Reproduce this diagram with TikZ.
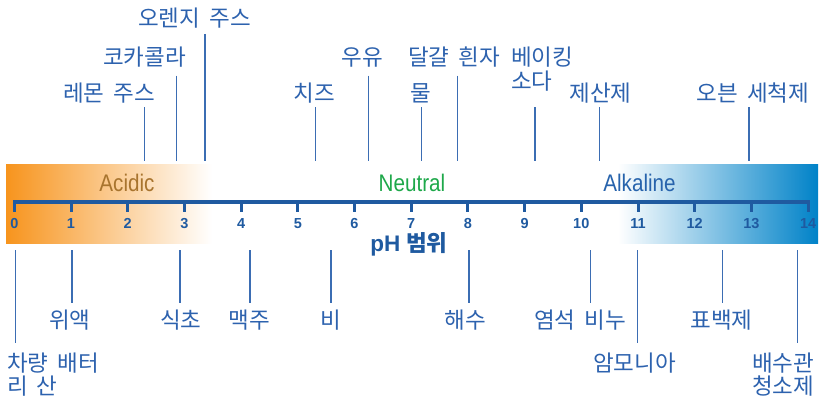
\documentclass[tikz,border=0pt]{standalone}
\usepackage{fontspec}
\setmainfont{Liberation Sans}
\newfontfamily\kr[WordSpace=1.8]{Noto Sans CJK KR}
\newfontfamily\narrowsans[FakeStretch=0.86]{Liberation Sans}
\definecolor{acidorange}{HTML}{F7941D}
\definecolor{alkblue}{HTML}{0082C8}
\definecolor{axisblue}{HTML}{1F5AA0}
\definecolor{labelblue}{HTML}{2D62AE}
\definecolor{leadblue}{HTML}{3B6DB3}
\definecolor{acidtext}{HTML}{A8742E}
\definecolor{neutgreen}{HTML}{1EA84A}
\definecolor{alktext}{HTML}{2763AC}
\begin{document}
\begin{tikzpicture}[x=1pt,y=-1pt,
  lbl/.style={inner sep=0pt,text=labelblue,font=\kr\fontsize{22.5}{23.5}\selectfont},
  lblml/.style={lbl,align=left,anchor=base west},
  ld/.style={draw=leadblue,line width=1.5pt},
  zone/.style={inner sep=0pt,font=\narrowsans\fontsize{24}{26}\selectfont},
  num/.style={inner sep=0pt,text=axisblue,font=\bfseries\fontsize{14.5}{16}\selectfont}]
\useasboundingbox (0,0) rectangle (825,396);

% coloured zones behind the scale
\shade[left color=acidorange,right color=white] (6,164) rectangle (212,243);
\shade[left color=white,right color=alkblue] (618,164) rectangle (818,243);

\node[zone,text=acidtext] (acidic) at (127,183) {Acidic};
\node[zone,text=neutgreen] (neutral) at (412,183) {Neutral};
\node[zone,text=alktext] (alkaline) at (639.5,183) {Alkaline};

% the pH scale
\foreach \i in {0,...,14}{
  \coordinate (t\i) at ({14.3+56.7*\i},202);
  \draw[axisblue,line width=3pt] (t\i) -- ++(0,10);
  \node[num] (n\i) at ({14.3+56.7*\i},223.5) {\i};
}
\draw[axisblue,line width=3.5pt] ([xshift=-1.5pt]t0) -- ([xshift=1.5pt]t14);
\node[inner sep=0pt,text=axisblue,font=\bfseries\fontsize{22.5}{24}\selectfont] (phrange) at (409,244.5) {pH\hspace{6pt}{\kr 범위}};

% substances above the scale
\node[lbl] (orange) at (194.5,18) {오렌지 주스};
\node[lbl] (cola) at (144.5,57) {코카콜라};
\node[lbl] (milk) at (362,57) {우유};
\node[lbl] (egg) at (454,57) {달걀 흰자};
\node[lblml] (soda) at (511,89) {베이킹\\소다};
\node[lbl] (lemon) at (109,93) {레몬 주스};
\node[lbl] (cheese) at (314,93) {치즈};
\node[lbl] (water) at (420.7,93) {물};
\node[lbl] (antacid) at (600.5,93) {제산제};
\node[lbl] (oven) at (753,93) {오븐 세척제};

\coordinate (orange-t) at (205,34);    \coordinate (orange-b) at (205,161);
\coordinate (cola-t) at (176.7,75.7);  \coordinate (cola-b) at (176.7,161);
\coordinate (milk-t) at (368.7,75.7);  \coordinate (milk-b) at (368.7,161);
\coordinate (egg-t) at (457.7,75.7);   \coordinate (egg-b) at (457.7,161);
\coordinate (lemon-t) at (144.3,107);  \coordinate (lemon-b) at (144.3,161);
\coordinate (cheese-t) at (315.7,107); \coordinate (cheese-b) at (315.7,161);
\coordinate (water-t) at (421.7,107);  \coordinate (water-b) at (421.7,161);
\coordinate (soda-t) at (535,107);     \coordinate (soda-b) at (535,161);
\coordinate (antacid-t) at (599.3,107);\coordinate (antacid-b) at (599.3,161);
\coordinate (oven-t) at (749,107);     \coordinate (oven-b) at (749,161);
\foreach \n in {orange,cola,milk,egg,lemon,cheese,water,soda,antacid,oven}
  \draw[ld] (\n-t) -- (\n-b);

% substances below the scale
\node[lbl] (gastric) at (70,320) {위액};
\node[lbl] (vinegar) at (180.7,320) {식초};
\node[lbl] (beer) at (249.3,320) {맥주};
\node[lbl] (rain) at (331,320) {비};
\node[lbl] (seawater) at (465,320) {해수};
\node[lbl] (soap) at (580,320) {염석 비누};
\node[lbl] (bleach) at (721.5,320) {표백제};
\node[lblml] (battery) at (7,394.5) {차량 배터\\리 산};
\node[lbl] (ammonia) at (634.5,362.7) {암모니아};
\node[lblml] (drain) at (752,394.5) {배수관\\청소제};

\coordinate (gastric-t) at (72,250);    \coordinate (gastric-b) at (72,303.3);
\coordinate (vinegar-t) at (180,250);   \coordinate (vinegar-b) at (180,303.3);
\coordinate (beer-t) at (250,250);      \coordinate (beer-b) at (250,303.3);
\coordinate (rain-t) at (331,250);      \coordinate (rain-b) at (331,303.3);
\coordinate (seawater-t) at (469,250);  \coordinate (seawater-b) at (469,303.3);
\coordinate (soap-t) at (590.3,250);    \coordinate (soap-b) at (590.3,303.3);
\coordinate (bleach-t) at (722.3,250);  \coordinate (bleach-b) at (722.3,303.3);
\coordinate (battery-t) at (15.3,250);  \coordinate (battery-b) at (15.3,342.7);
\coordinate (ammonia-t) at (637.7,250); \coordinate (ammonia-b) at (637.7,342.7);
\coordinate (drain-t) at (797.7,250);   \coordinate (drain-b) at (797.7,342.7);
\foreach \n in {gastric,vinegar,beer,rain,seawater,soap,bleach,battery,ammonia,drain}
  \draw[ld] (\n-t) -- (\n-b);
\end{tikzpicture}
\end{document}
